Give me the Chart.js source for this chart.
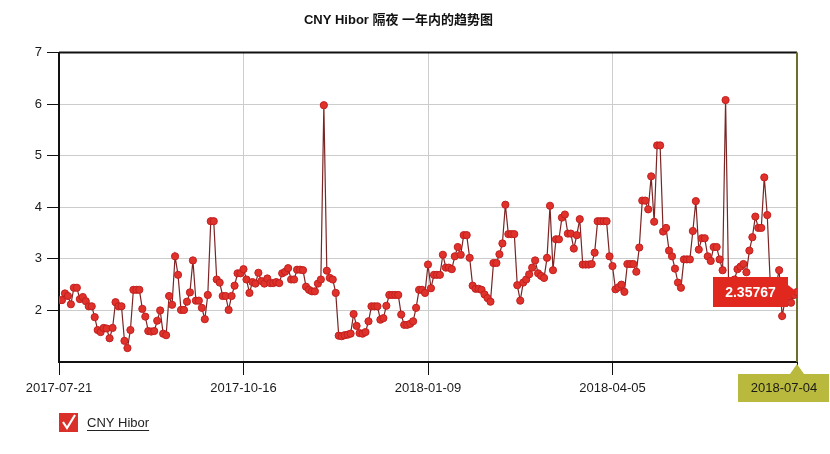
<!DOCTYPE html>
<html>
<head>
<meta charset="utf-8">
<script src="https://cdn.jsdelivr.net/npm/chart.js@4/dist/chart.umd.min.js"></script>
<style>
  html, body { margin: 0; padding: 0; background: #fff; }
  #wrap { width: 830px; height: 454px; }
</style>
</head>
<body>
<div id="wrap"><canvas id="chartHibor" width="830" height="454"></canvas></div>
<script>
// CNY Hibor overnight, one value per trading day
var hibor = [
    2.20, 2.20, 2.33, 2.28, 2.12, 2.44, 2.44, 2.22, 2.26, 2.18,
    2.08, 2.08, 1.87, 1.62, 1.58, 1.66, 1.65, 1.46, 1.66, 2.16,
    2.08, 2.08, 1.41, 1.27, 1.62, 2.40, 2.40, 2.40, 2.03, 1.88,
    1.60, 1.59, 1.60, 1.80, 2.00, 1.55, 1.52, 2.28, 2.11, 3.05,
    2.69, 2.01, 2.01, 2.17, 2.35, 2.97, 2.19, 2.19, 2.05, 1.83,
    2.30, 3.73, 3.73, 2.60, 2.54, 2.28, 2.28, 2.01, 2.28, 2.48,
    2.72, 2.72, 2.80, 2.60, 2.34, 2.55, 2.52, 2.73, 2.57, 2.52,
    2.62, 2.53, 2.53, 2.55, 2.53, 2.72, 2.75, 2.82, 2.60, 2.60,
    2.79, 2.79, 2.78, 2.46, 2.40, 2.37, 2.37, 2.52, 2.60, 5.98,
    2.77, 2.63, 2.60, 2.34, 1.51, 1.50, 1.52, 1.53, 1.55, 1.93,
    1.70, 1.56, 1.55, 1.58, 1.79, 2.08, 2.08, 2.08, 1.82, 1.85,
    2.09, 2.30, 2.30, 2.30, 2.30, 1.92, 1.72, 1.72, 1.74, 1.79,
    2.05, 2.40, 2.40, 2.34, 2.89, 2.43, 2.69, 2.69, 2.69, 3.08,
    2.83, 2.83, 2.80, 3.05, 3.23, 3.08, 3.46, 3.46, 3.02, 2.48,
    2.42, 2.42, 2.40, 2.31, 2.24, 2.17, 2.92, 2.92, 3.09, 3.30,
    4.05, 3.48, 3.48, 3.48, 2.49, 2.19, 2.54, 2.60, 2.70, 2.83,
    2.97, 2.72, 2.67, 2.63, 3.02, 4.03, 2.78, 3.38, 3.38, 3.80,
    3.86, 3.49, 3.49, 3.20, 3.46, 3.77, 2.89, 2.89, 2.89, 2.90,
    3.12, 3.73, 3.73, 3.73, 3.73, 3.05, 2.86, 2.41, 2.45, 2.50,
    2.36, 2.90, 2.90, 2.90, 2.75, 3.22, 4.13, 4.13, 3.96, 4.60,
    3.72, 5.20, 5.20, 3.53, 3.60, 3.16, 3.05, 2.81, 2.54, 2.44,
    2.99, 2.99, 2.99, 3.54, 4.12, 3.18, 3.40, 3.40, 3.05, 2.96,
    3.23, 3.23, 2.99, 2.78, 6.08, 2.55, 2.45, 2.60, 2.80, 2.85,
    2.90, 2.74, 3.16, 3.42, 3.82, 3.60, 3.60, 4.58, 3.85, 2.55,
    2.40, 2.50, 2.78, 1.89, 2.20, 2.25, 2.15, 2.30, 2.35767
];

// x tick labels, one every tickStep points
var tickDates = ["2017-07-21", "2017-10-16", "2018-01-09", "2018-04-05", "2018-07-04"];
var tickStep = 62;

// y axis
var yTicks = [2, 3, 4, 5, 6, 7];
var yMin = 1;
var yMax = 7;

var seriesName = "CNY Hibor";
var titleText = "CNY Hibor 隔夜 一年内的趋势图";

var FONT = '"Liberation Sans", Arial, "Noto Sans CJK SC", sans-serif';
Chart.defaults.font.family = FONT;
Chart.defaults.color = '#1a1a1a';

// last value callout, highlighted last date, borders and legend
var extras = {
    id: 'extras',
    beforeDatasetsDraw: function(chart) {
        var ctx = chart.ctx, a = chart.chartArea;
        ctx.save();
        ctx.lineWidth = 2;
        ctx.strokeStyle = '#111';
        ctx.beginPath();
        ctx.moveTo(a.left, a.top);
        ctx.lineTo(a.right, a.top);
        ctx.stroke();
        ctx.strokeStyle = '#6e6e2e';
        ctx.beginPath();
        ctx.moveTo(a.right, a.top);
        ctx.lineTo(a.right, a.bottom);
        ctx.stroke();
        ctx.restore();
    },
    afterDraw: function(chart) {
        var ctx = chart.ctx, a = chart.chartArea;
        var meta = chart.getDatasetMeta(0);
        var last = meta.data[meta.data.length - 1];
        var val = hibor[hibor.length - 1];
        ctx.save();

        // red value callout
        var bw = 75, bh = 30;
        var bx = last.x - 9 - bw, by = last.y - bh / 2;
        ctx.fillStyle = '#e0281f';
        ctx.fillRect(bx, by, bw, bh);
        ctx.beginPath();
        ctx.moveTo(bx + bw, last.y - 7);
        ctx.lineTo(last.x, last.y);
        ctx.lineTo(bx + bw, last.y + 7);
        ctx.fill();
        ctx.fillStyle = '#fff';
        ctx.font = 'bold 14px ' + FONT;
        ctx.textAlign = 'center';
        ctx.textBaseline = 'middle';
        ctx.fillText(String(val), bx + bw / 2, last.y + 1);

        // highlighted last date
        var dx = chart.scales.x.getPixelForValue(tickStep * (tickDates.length - 1));
        var top = a.bottom + 12;
        ctx.fillStyle = '#b9b93d';
        ctx.fillRect(dx - 59, top, 91, 28);
        ctx.beginPath();
        ctx.moveTo(dx - 7, top);
        ctx.lineTo(dx, a.bottom + 2);
        ctx.lineTo(dx + 7, top);
        ctx.fill();
        ctx.fillStyle = '#1a1a1a';
        ctx.font = '13px ' + FONT;
        ctx.fillText(tickDates[tickDates.length - 1], dx - 13, top + 14);

        // legend: checkbox + underlined name
        var lx = 59, ly = 413;
        ctx.fillStyle = '#d9302a';
        ctx.fillRect(lx, ly, 19, 19);
        ctx.strokeStyle = '#fff';
        ctx.lineWidth = 2.2;
        ctx.beginPath();
        ctx.moveTo(lx + 4, ly + 9);
        ctx.lineTo(lx + 8, ly + 15);
        ctx.lineTo(lx + 16, ly + 2);
        ctx.stroke();
        ctx.fillStyle = '#222';
        ctx.textAlign = 'left';
        ctx.font = '13px ' + FONT;
        ctx.fillText(chart.data.datasets[0].label, lx + 28, ly + 10);
        var tw = ctx.measureText(chart.data.datasets[0].label).width;
        ctx.strokeStyle = '#222';
        ctx.lineWidth = 1;
        ctx.beginPath();
        ctx.moveTo(lx + 28, ly + 17.5);
        ctx.lineTo(lx + 28 + tw, ly + 17.5);
        ctx.stroke();
        ctx.restore();
    }
};

var chartHibor = new Chart(document.getElementById("chartHibor"), {
    type: 'line',
    data: {
        datasets: [{
            label: seriesName,
            data: hibor.map(function(v, i) { return {x: i, y: v}; }),
            borderColor: '#7a2424',
            borderWidth: 1.2,
            pointRadius: 3.6,
            pointBackgroundColor: '#e0322a',
            pointBorderColor: '#c02020',
            pointBorderWidth: 1,
            tension: 0,
            fill: false
        }]
    },
    options: {
        responsive: false,
        animation: false,
        layout: { padding: { left: 0, right: 33, top: 0, bottom: 0 } },
        plugins: {
            legend: { display: false },
            tooltip: { enabled: false },
            title: {
                display: true,
                text: titleText,
                color: '#111',
                font: { size: 13, weight: 'bold' },
                padding: { top: 13, bottom: 24 }
            }
        },
        scales: {
            x: {
                type: 'linear',
                min: 0,
                max: tickStep * (tickDates.length - 1),
                afterFit: function(s) { s.height = 92; },
                afterBuildTicks: function(s) {
                    s.ticks = tickDates.map(function(d, i) { return {value: i * tickStep}; });
                },
                ticks: {
                    autoSkip: false,
                    maxRotation: 0,
                    padding: 6,
                    font: { size: 13 },
                    callback: function(v) {
                        var i = Math.round(v / tickStep);
                        return i === tickDates.length - 1 ? '' : tickDates[i];
                    }
                },
                grid: { color: '#cccccc', tickColor: '#111', tickLength: 13 },
                border: { color: '#111', width: 2 }
            },
            y: {
                min: yMin,
                max: yMax,
                afterFit: function(s) { s.width = 59; },
                afterBuildTicks: function(s) {
                    s.ticks = yTicks.map(function(v) { return {value: v}; });
                },
                ticks: {
                    padding: 5,
                    font: { size: 13 }
                },
                grid: { color: '#cccccc', tickColor: '#111', tickLength: 12 },
                border: { color: '#111', width: 2 }
            }
        }
    },
    plugins: [extras]
});
</script>
</body>
</html>
